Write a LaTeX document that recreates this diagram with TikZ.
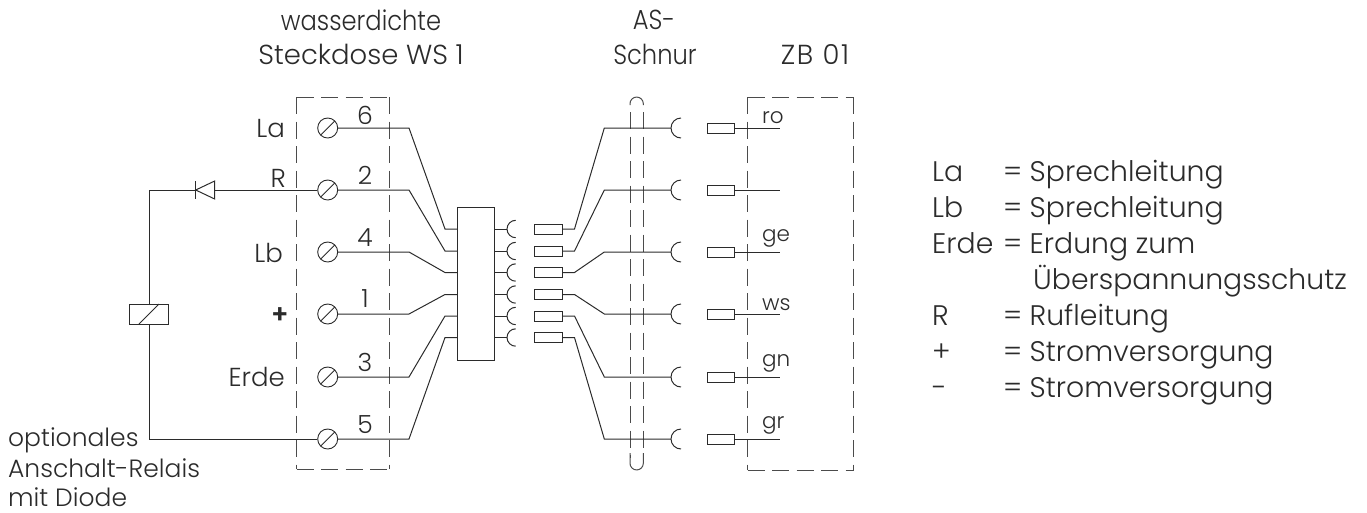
\documentclass[tikz,border=0pt]{standalone}
\usepackage{fontspec}
\setmainfont{Poppins Light}
\definecolor{ink}{HTML}{2B2B2B}
\begin{document}
\begin{tikzpicture}[x=1pt,y=-1pt,
  wire/.style={draw=ink,line width=1pt},
  dbox/.style={draw=ink!85,line width=1pt,dash pattern=on 17pt off 7.5pt},
  term/.style={circle,draw=ink,line width=0.9pt,minimum size=20pt,inner sep=0pt,
     path picture={\draw[ink,line width=0.9pt] (path picture bounding box.south west)++(3pt,3pt) -- ++(14pt,14pt);}},
  plug/.style={rectangle,draw=ink,line width=1pt,minimum width=27.5pt,minimum height=10pt,inner sep=0pt},
  lab/.style={text=ink,font=\fontsize{26}{30}\selectfont,inner sep=0pt},
  num/.style={text=ink,font=\fontsize{25}{30}\selectfont,inner sep=0pt,anchor=base},
  ttl/.style={text=ink,font=\fontsize{27.5}{32}\selectfont,inner sep=0pt,anchor=base},
  ttlnarrow/.style={text=ink,font=\fontsize{27.5}{32}\selectfont\addfontfeature{FakeStretch=0.88},inner sep=0pt,anchor=base},
  leg/.style={text=ink,font=\fontsize{28.3}{32}\selectfont,inner sep=0pt,anchor=base west},
  opt/.style={text=ink,font=\fontsize{25}{30}\selectfont,inner sep=0pt,anchor=base west},
  small/.style={text=ink,font=\fontsize{21.5}{25}\selectfont,inner sep=0pt,anchor=base west}]
\useasboundingbox (0,0) rectangle (1367,512);
% dashed enclosures
\foreach \l/\r/\b in {296.7/389.7/469,747.7/853.7/470}{
  \draw[dbox] (\l,97) -- (\r,97);
  \draw[dbox] (\r,97) -- (\r,\b);
  \draw[dbox] (\l,97) -- (\l,\b);
  \draw[dbox] (\l,\b) -- (\r,\b);
}
% cable tube
\draw[dbox] (630,112) -- (630,458);
\draw[dbox] (643.3,112) -- (643.3,458);
\draw[ink!85,line width=1pt] (630,105) -- (630,103.7) arc[start angle=180,end angle=360,radius=6.65] -- (643.3,105);
\draw[ink!85,line width=1pt] (630,453) -- (630,463.3) arc[start angle=180,end angle=0,radius=6.65] -- (643.3,453);
\foreach \n/\y in {6/128,2/190,4/252,1/314,3/377,5/439}{
  \node[term] (t\n) at (327.7,\y) {};
  \coordinate (e\n) at (409,\y);
}
\node[rectangle,draw=ink,line width=1pt,minimum width=37.3pt,minimum height=153pt,inner sep=0pt] (block) at (476.3,283.5) {};
\foreach \i/\y in {1/229,2/251,3/272.5,4/294.5,5/316,6/337.5}{
  \coordinate (bl\i) at (457.7,\y);
  \coordinate (bk\i) at (445,\y);
  \coordinate (br\i) at (495,\y);
  \coordinate (sk\i) at (507,\y);
  \draw[wire] (br\i) -- (sk\i);
  \draw[wire] (515.7,\y+8.7) arc[start angle=90,end angle=270,radius=8.7];
  \node[plug] (p\i) at (548.5,\y) {};
  \coordinate (pk\i) at (574.5,\y);
}
\foreach \i/\n in {1/6,2/2,3/4,4/1,5/3,6/5}{
  \draw[wire] (t\n) -- (e\n) -- (bk\i) -- (bl\i);
}
\foreach \i/\y in {1/128,2/190,3/252,4/314,5/377,6/439}{
  \coordinate (a\i) at (604.3,\y);
  \coordinate (c\i) at (671,\y);
  \draw[wire] (p\i.east) -- (pk\i) -- (a\i) -- (c\i);
  \draw[wire] (681,\y+10) arc[start angle=90,end angle=270,radius=10];
  \node[plug] (q\i) at (721.2,\y) {};
  \coordinate (z\i) at (780,\y);
  \draw[wire] (q\i.east) -- (z\i);
}
% relay branch
\coordinate (cr1) at (149,190);
\coordinate (cr2) at (149,439);
\node[rectangle,draw=ink,line width=1pt,minimum width=39pt,minimum height=20pt,inner sep=0pt] (relay) at (148.8,314) {};
\coordinate (dtip) at (195.7,190);
\coordinate (dbase) at (214.7,190);
\draw[wire] (t2) -- (dbase);
\draw[wire] (dtip) -- (cr1) -- (relay.north -| cr1);
\draw[wire] (relay.south -| cr1) -- (cr2) -- (t5);
\draw[wire,line join=miter] (214.7,181) -- (dtip) -- (214.7,199) -- cycle;
\draw[wire] (195.7,181) -- (195.7,199);
\draw[wire] (139,324) -- (159,304);
% labels
\node[lab,anchor=base east] (lLa) at (285,137) {La};
\node[lab,anchor=base east] (lR) at (286,187) {R};
\node[lab,anchor=base east] (lLb) at (283,262.5) {Lb};
\node[lab,anchor=base,font=\fontsize{26}{30}\selectfont\bfseries] (lP) at (280,323) {+};
\node[lab,anchor=base east] (lE) at (285,386) {Erde};
\foreach \n/\y in {6/124,2/184.5,4/246,1/307.5,3/371,5/433.5}
  \node[num] (n\n) at (365,\y) {\n};
\node[ttlnarrow] (tw) at (361,30) {wasserdichte};
\node[ttl] (ts) at (361,64) {Steckdose WS 1};
\node[ttlnarrow] (ta) at (654,29) {AS-};
\node[ttlnarrow] (tsc) at (655,64) {Schnur};
\node[ttl,font=\fontsize{27.5}{32}\selectfont\addfontfeature{LetterSpace=6}] (tz) at (815,64) {ZB 01};
\node[small] (cro) at (762,123.7) {ro};
\node[small] (cge) at (762,241.7) {ge};
\node[small] (cws) at (762,310) {ws};
\node[small] (cgn) at (762,366) {gn};
\node[small] (cgr) at (762,428) {gr};
\node[opt] (o1) at (8,446) {optionales};
\node[opt] (o2) at (8,477) {Anschalt-Relais};
\node[opt] (o3) at (8,506) {mit Diode};
\foreach \k/\a/\b/\y in {1/La/Sprechleitung/181.5,2/Lb/Sprechleitung/217.5,3/Erde/Erdung zum/253.7,4/R/Rufleitung/325,5/+/Stromversorgung/361.5,6/-/Stromversorgung/397.7}{
  \node[leg] (la\k) at (932,\y) {\a};
  \node[leg] (le\k) at (1003,\y) {=};
  \node[leg] (lb\k) at (1029.5,\y) {\b};
}
\node[leg] (lu) at (1033,289.7) {Überspannungsschutz};
\end{tikzpicture}
\end{document}
